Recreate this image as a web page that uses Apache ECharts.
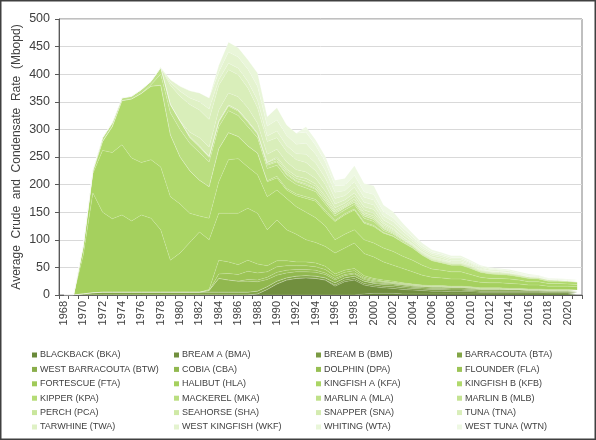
<!DOCTYPE html>
<html>
<head>
<meta charset="utf-8">
<script src="https://cdn.jsdelivr.net/npm/echarts@6/dist/echarts.min.js"></script>
<style>
html,body{margin:0;padding:0;background:#fff;}
#chart{width:596px;height:440px;}
</style>
</head>
<body>
<div id="chart"></div>
<script>
const years = ['1968','1969','1970','1971','1972','1973','1974','1975','1976','1977',
 '1978','1979','1980','1981','1982','1983','1984','1985','1986','1987',
 '1988','1989','1990','1991','1992','1993','1994','1995','1996','1997',
 '1998','1999','2000','2001','2002','2003','2004','2005','2006','2007',
 '2008','2009','2010','2011','2012','2013','2014','2015','2016','2017',
 '2018','2019','2020','2021'];

const yTicks = [0,50,100,150,200,250,300,350,400,450,500];

// Series values (Mbopd), 1968..2021
const BKA = [0,0,0,0,0,0,0,0,0,0, 0,0,0,0,0,0,0,0,0,0, 0,0,0,0,0,0,0,0,0,0, 0,2,3,3,3,2,2,2,2,2, 2,2,2,2,2,2,2,2,2,2, 2,2,2,2];
const BMA = [0,0,0,0,0,0,0,0,0,0, 0,0,0,0,0,0,0,0,0,0, 2,10,20,27,30,31,30,27,16,24, 27,16,12,10,9,8,7,6,5,5, 4,4,4,3,3,3,3,3,3,3, 2,2,2,2];
const BMB = [0,0,0,0,0,0,0,0,0,0, 0,0,0,0,0,0,0,0,0,0, 0,0,0,0,0,0,0,0,2,3, 3,3,3,3,3,3,3,3,3,3, 3,3,2,2,2,2,2,2,2,2, 2,2,2,1];
const BTA = [0,0,2,4,5,5,5,5,5,5, 5,5,5,5,5,5,5,5,5,5, 5,5,5,4,4,4,4,4,4,4, 4,4,3,3,3,3,2,2,2,2, 2,2,2,2,2,2,2,2,1,1, 1,1,1,1];
const BTW = [0,0,0,0,0,0,0,0,0,0, 0,0,0,0,0,0,0,0,0,0, 0,0,0,0,0,0,0,0,0,0, 0,0,1,2,2,2,2,2,2,2, 2,2,2,1,1,1,1,1,1,1, 1,1,1,1];
const CBA = [0,0,0,0,0,0,0,0,0,0, 0,0,0,0,0,3,25,22,20,20, 17,13,11,9,8,7,7,6,5,4, 4,3,2,2,1,1,1,1,1,1, 1,1,1,1,1,1,0,0,0,0, 0,0,0,0];
const DPA = [0,0,0,0,0,0,0,0,0,0, 0,0,0,0,0,0,0,0,0,3, 3,4,5,5,4,4,4,3,3,2, 2,2,2,1,1,1,1,0,0,0, 0,0,0,0,0,0,0,0,0,0, 0,0,0,0];
const FLA = [0,0,0,0,0,0,0,0,0,0, 0,0,0,0,0,0,8,12,12,15, 13,10,10,8,7,7,6,6,4,4, 4,2,2,1,1,1,1,1,1,1, 1,1,1,1,1,1,1,1,1,1, 1,1,1,1];
const FTA = [0,0,0,0,0,0,0,0,0,0, 0,0,0,0,0,2,25,21,18,20, 16,11,11,9,7,7,7,6,4,4, 4,3,2,2,2,1,1,1,1,1, 1,1,1,1,1,1,1,1,1,1, 1,1,1,1];
const HLA = [0,0,70,181,145,133,140,129,140,134, 113,58,71,90,109,90,85,88,93,94, 92,65,74,56,50,40,37,36,38,40, 46,40,39,33,29,26,22,18,15,14, 13,13,11,10,9,9,9,8,7,7, 6,6,6,6];
const KFA = [0,0,13,35,112,120,127,114,95,106, 114,115,89,53,29,39,57,97,99,75, 70,60,54,57,50,50,45,37,24,25, 24,25,25,25,25,22,21,18,15,14, 13,13,11,9,8,8,8,7,6,6, 5,5,4,4];
const KFB = [0,0,3,4,16,47,80,107,125,133, 148,112,85,77,65,57,60,49,40,38, 39,27,22,15,20,25,30,25,33,35, 36,30,30,27,27,25,22,18,15,13, 12,12,11,9,8,7,7,6,6,5, 4,4,4,4];
const KPA = [0,0,0,0,0,0,0,0,0,0, 0,0,0,0,0,0,0,0,0,0, 0,2,3,3,3,3,3,3,2,2, 2,2,2,1,1,1,1,1,1,1, 1,1,1,1,1,1,1,1,1,1, 1,1,1,1];
const MKA = [0,0,0,0,0,0,0,0,0,3, 20,40,50,50,50,45,40,40,38,35, 28,22,20,19,17,16,14,12,8,7, 8,7,7,4,3,2,2,1,1,1, 1,1,1,1,1,1,1,1,1,1, 1,1,1,1];
const MLA = [0,0,2,3,7,7,5,5,7,6, 12,15,15,10,10,8,8,8,8,8, 6,6,6,6,5,5,4,4,4,4, 4,4,4,3,2,2,1,1,1,1, 1,1,1,1,1,1,1,1,1,1, 1,0,0,0];
const MLB = [0,0,0,0,0,0,0,0,0,0, 0,0,0,2,2,2,2,2,2,2, 2,2,2,2,2,2,2,2,0,0, 0,0,0,0,0,0,0,0,0,0, 0,0,0,0,0,0,0,0,0,0, 0,0,0,0];
const PCA = [0,0,0,0,0,0,0,0,0,0, 0,0,0,0,0,0,0,0,0,0, 0,3,4,4,4,5,4,4,3,2, 3,3,3,2,2,1,1,1,1,1, 1,1,1,1,1,1,1,1,0,0, 0,0,0,0];
const SHA = [0,0,0,0,0,0,0,0,0,0, 0,0,0,0,0,0,0,0,0,0, 0,0,3,4,4,5,4,4,3,2, 3,3,3,2,2,1,1,1,1,1, 1,1,1,1,1,1,0,0,0,0, 0,0,0,0];
const SNA = [0,0,0,0,0,0,0,0,0,0, 0,0,0,8,15,17,20,22,24,24, 18,15,14,13,12,12,10,9,5,4, 5,5,5,3,2,2,1,1,1,1, 1,1,1,0,0,0,0,0,0,0, 0,0,0,0];
const TNA = [0,0,0,0,0,0,0,0,0,0, 0,35,45,50,50,50,45,42,40,36, 28,23,21,19,18,17,14,12,7,6, 6,6,7,3,2,1,1,1,1,1, 0,0,0,0,0,0,0,0,0,0, 0,0,0,0];
const TWA = [0,0,0,0,0,0,0,0,0,0, 0,5,9,12,15,19,10,12,12,12, 14,10,12,11,11,15,14,12,10,8, 10,8,8,6,6,5,4,3,3,3, 2,2,2,2,1,1,1,1,1,1, 1,1,1,1];
const WKF = [0,0,0,0,0,0,0,0,0,0, 0,5,9,13,16,20,14,20,20,22, 25,18,20,18,17,20,16,14,11,9, 10,9,9,7,7,6,4,3,3,3, 3,3,2,2,2,2,2,1,1,1, 1,1,1,1];
const WTA = [0,0,0,0,0,0,0,0,0,0, 0,0,0,0,0,0,12,18,17,17, 24,17,22,19,20,20,16,15,12,10, 12,10,10,8,7,6,5,4,3,3, 3,3,2,2,2,1,1,1,1,1, 0,0,0,0];
const WTN = [0,0,0,0,0,0,0,0,0,0, 0,0,0,0,0,0,0,0,0,0, 0,0,0,0,0,10,10,10,10,12, 17,15,16,12,11,8,6,5,4,3, 3,3,3,2,2,2,2,2,2,1, 1,1,1,0];

const seriesNames = ['BLACKBACK (BKA)','BREAM A (BMA)','BREAM B (BMB)','BARRACOUTA (BTA)',
 'WEST BARRACOUTA (BTW)','COBIA (CBA)','DOLPHIN (DPA)','FLOUNDER (FLA)',
 'FORTESCUE (FTA)','HALIBUT (HLA)','KINGFISH A (KFA)','KINGFISH B (KFB)',
 'KIPPER (KPA)','MACKEREL (MKA)','MARLIN A (MLA)','MARLIN B (MLB)',
 'PERCH (PCA)','SEAHORSE (SHA)','SNAPPER (SNA)','TUNA (TNA)',
 'TARWHINE (TWA)','WEST KINGFISH (WKF)','WHITING (WTA)','WEST TUNA (WTN)'];
const seriesValues = [BKA,BMA,BMB,BTA,BTW,CBA,DPA,FLA,FTA,HLA,KFA,KFB,KPA,MKA,MLA,MLB,PCA,SHA,SNA,TNA,TWA,WKF,WTA,WTN];

const colors = ['#6a8a3a','#718f3e','#7a9a42','#82a546','#8aae4b','#91b84f','#97bf53','#9cc456',
 '#a0ca59','#a5d05e','#aad564','#b0d96c','#b5dc76','#bade80','#bfe189','#c4e392',
 '#c9e69c','#cfe9a6','#d4ebb0','#d9eeba','#dff1c5','#e4f3cf','#e9f6d9','#eef8e3'];

const chart = echarts.init(document.getElementById('chart'), null, {renderer:'canvas'});
const font = 'Liberation Sans, Arial, sans-serif';

const series = seriesNames.map((n,i)=>({
  name:n, type:'line', stack:'total', data:seriesValues[i],
  symbol:'none', showSymbol:false, smooth:false,
  itemStyle:{color:colors[i]},
  lineStyle:{width:0.6,color:'rgba(255,255,255,0.28)'},
  areaStyle:{color:colors[i],opacity:1},
  emphasis:{disabled:true}, silent:true
}));

const legendCols = [0,1,2,3].map(c=>seriesNames.filter((_,i)=>i%4===c));
const legendLefts = [27,169,311,452];
const legends = legendCols.map((d,c)=>({
  data:d, orient:'vertical', left:legendLefts[c], top:345,
  itemWidth:5, itemHeight:5, itemGap:4.4, icon:'rect',
  selectedMode:false,
  textStyle:{fontSize:9, fontFamily:font, color:'#404040', lineHeight:10, padding:[0,0,0,-2]}
}));

chart.setOption({
  animation:false,
  backgroundColor:'#ffffff',
  color:colors,
  grid:{left:59,right:14,top:19,bottom:145,show:true,borderColor:'#808080',borderWidth:1,backgroundColor:'transparent'},
  legend:legends,
  xAxis:{
    type:'category', data:years, boundaryGap:true,
    axisLine:{lineStyle:{color:'#595959',width:1}},
    axisTick:{show:true,interval:0,length:4,lineStyle:{color:'#595959'}},
    axisLabel:{interval:1,rotate:90,fontSize:11,fontFamily:font,color:'#404040',margin:6}
  },
  yAxis:{
    type:'value', min:yTicks[0], max:yTicks[yTicks.length-1], interval:50,
    name:'Average  Crude  and  Condensate  Rate  (Mbopd)',
    nameLocation:'middle', nameGap:36, nameMoveOverlap:false,
    nameTextStyle:{fontSize:12,fontFamily:font,color:'#404040'},
    axisLine:{show:true,lineStyle:{color:'#595959',width:1}},
    axisTick:{show:true,length:4,lineStyle:{color:'#595959'}},
    axisLabel:{fontSize:12.5,fontFamily:font,color:'#404040',margin:9},
    splitLine:{lineStyle:{color:'#d9d9d9',width:1}}
  },
  graphic:[{type:'rect',shape:{x:0.75,y:0.75,width:594.5,height:438.5},style:{fill:'none',stroke:'#404040',lineWidth:1.5},silent:true}],
  series:series
});
</script>
</body>
</html>
